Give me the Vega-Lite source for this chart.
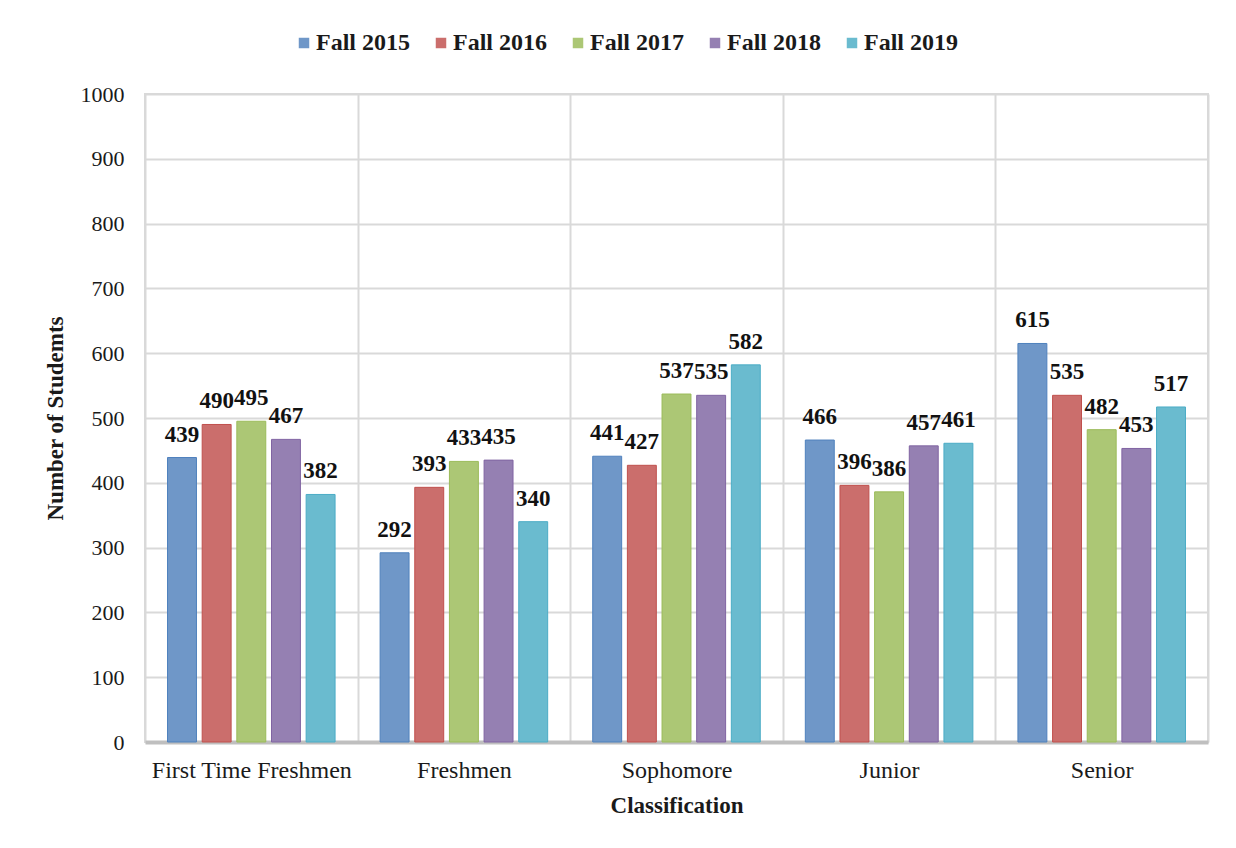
{
  "$schema": "https://vega.github.io/schema/vega-lite/v6.json",
  "width": 1063,
  "height": 648,
  "autosize": {"type": "none"},
  "padding": {"left": 145, "top": 94, "right": 28, "bottom": 106},
  "background": "white",
  "config": {
    "font": "Liberation Serif",
    "view": {"stroke": "#d9d9d9", "strokeWidth": 2}
  },
  "data": {
    "values": [
      {"Classification": "First Time Freshmen", "Term": "Fall 2015", "Students": 439},
      {"Classification": "First Time Freshmen", "Term": "Fall 2016", "Students": 490},
      {"Classification": "First Time Freshmen", "Term": "Fall 2017", "Students": 495},
      {"Classification": "First Time Freshmen", "Term": "Fall 2018", "Students": 467},
      {"Classification": "First Time Freshmen", "Term": "Fall 2019", "Students": 382},
      {"Classification": "Freshmen", "Term": "Fall 2015", "Students": 292},
      {"Classification": "Freshmen", "Term": "Fall 2016", "Students": 393},
      {"Classification": "Freshmen", "Term": "Fall 2017", "Students": 433},
      {"Classification": "Freshmen", "Term": "Fall 2018", "Students": 435},
      {"Classification": "Freshmen", "Term": "Fall 2019", "Students": 340},
      {"Classification": "Sophomore", "Term": "Fall 2015", "Students": 441},
      {"Classification": "Sophomore", "Term": "Fall 2016", "Students": 427},
      {"Classification": "Sophomore", "Term": "Fall 2017", "Students": 537},
      {"Classification": "Sophomore", "Term": "Fall 2018", "Students": 535},
      {"Classification": "Sophomore", "Term": "Fall 2019", "Students": 582},
      {"Classification": "Junior", "Term": "Fall 2015", "Students": 466},
      {"Classification": "Junior", "Term": "Fall 2016", "Students": 396},
      {"Classification": "Junior", "Term": "Fall 2017", "Students": 386},
      {"Classification": "Junior", "Term": "Fall 2018", "Students": 457},
      {"Classification": "Junior", "Term": "Fall 2019", "Students": 461},
      {"Classification": "Senior", "Term": "Fall 2015", "Students": 615},
      {"Classification": "Senior", "Term": "Fall 2016", "Students": 535},
      {"Classification": "Senior", "Term": "Fall 2017", "Students": 482},
      {"Classification": "Senior", "Term": "Fall 2018", "Students": 453},
      {"Classification": "Senior", "Term": "Fall 2019", "Students": 517}
    ]
  },
  "encoding": {
    "x": {
      "field": "Classification",
      "type": "nominal",
      "sort": ["First Time Freshmen", "Freshmen", "Sophomore", "Junior", "Senior"],
      "scale": {"paddingInner": 0, "paddingOuter": 0},
      "axis": {
        "title": "Classification",
        "labelAngle": 0,
        "labelLimit": 500,
        "labelFont": "Liberation Serif",
        "labelFontSize": 24,
        "labelColor": "#1a1a1a",
        "labelPadding": 16,
        "titleFont": "Liberation Serif",
        "titleFontSize": 23,
        "titleFontWeight": "bold",
        "titleColor": "#1a1a1a",
        "titlePadding": 12,
        "ticks": false,
        "tickBand": "extent",
        "grid": true,
        "gridColor": "#d9d9d9",
        "gridWidth": 2,
        "domainColor": "#bfbfbf",
        "domainWidth": 4
      }
    },
    "xOffset": {
      "field": "Term",
      "type": "nominal",
      "scale": {"paddingInner": 0.165, "paddingOuter": 0.65}
    },
    "y": {
      "field": "Students",
      "type": "quantitative",
      "scale": {"domain": [0, 1000]},
      "axis": {
        "title": "Number of Studemts",
        "format": "d",
        "values": [0, 100, 200, 300, 400, 500, 600, 700, 800, 900, 1000],
        "labelFont": "Liberation Serif",
        "labelFontSize": 22,
        "labelColor": "#1a1a1a",
        "labelPadding": 21,
        "titleFont": "Liberation Serif",
        "titleFontSize": 23,
        "titleFontWeight": "bold",
        "titleColor": "#1a1a1a",
        "titlePadding": 13,
        "ticks": false,
        "domain": false,
        "grid": true,
        "gridColor": "#d9d9d9",
        "gridWidth": 2
      }
    }
  },
  "layer": [
    {
      "mark": {"type": "bar", "strokeWidth": 1},
      "encoding": {
        "color": {
          "field": "Term",
          "type": "nominal",
          "scale": {
            "domain": ["Fall 2015", "Fall 2016", "Fall 2017", "Fall 2018", "Fall 2019"],
            "range": ["#6f97c8", "#cb6e6c", "#acc775", "#9580b2", "#6abbcf"]
          },
          "legend": {
            "title": null,
            "orient": "none",
            "direction": "horizontal",
            "legendX": 147,
            "legendY": -63,
            "symbolType": "square",
            "symbolSize": 110,
            "symbolStrokeWidth": 0,
            "labelFont": "Liberation Serif",
            "labelFontSize": 24,
            "labelFontWeight": "bold",
            "labelColor": "#1a1a1a",
            "labelOffset": 0,
            "columnPadding": 19
          }
        },
        "stroke": {
          "field": "Term",
          "type": "nominal",
          "scale": {
            "domain": ["Fall 2015", "Fall 2016", "Fall 2017", "Fall 2018", "Fall 2019"],
            "range": ["#4f81bd", "#c0504d", "#9bbb59", "#8064a2", "#4bacc6"]
          },
          "legend": null
        }
      }
    },
    {
      "mark": {
        "type": "text",
        "baseline": "alphabetic",
        "dy": -16,
        "font": "Liberation Serif",
        "fontSize": 23,
        "fontWeight": "bold",
        "color": "#111111"
      },
      "encoding": {
        "text": {"field": "Students", "type": "quantitative"}
      }
    }
  ]
}
